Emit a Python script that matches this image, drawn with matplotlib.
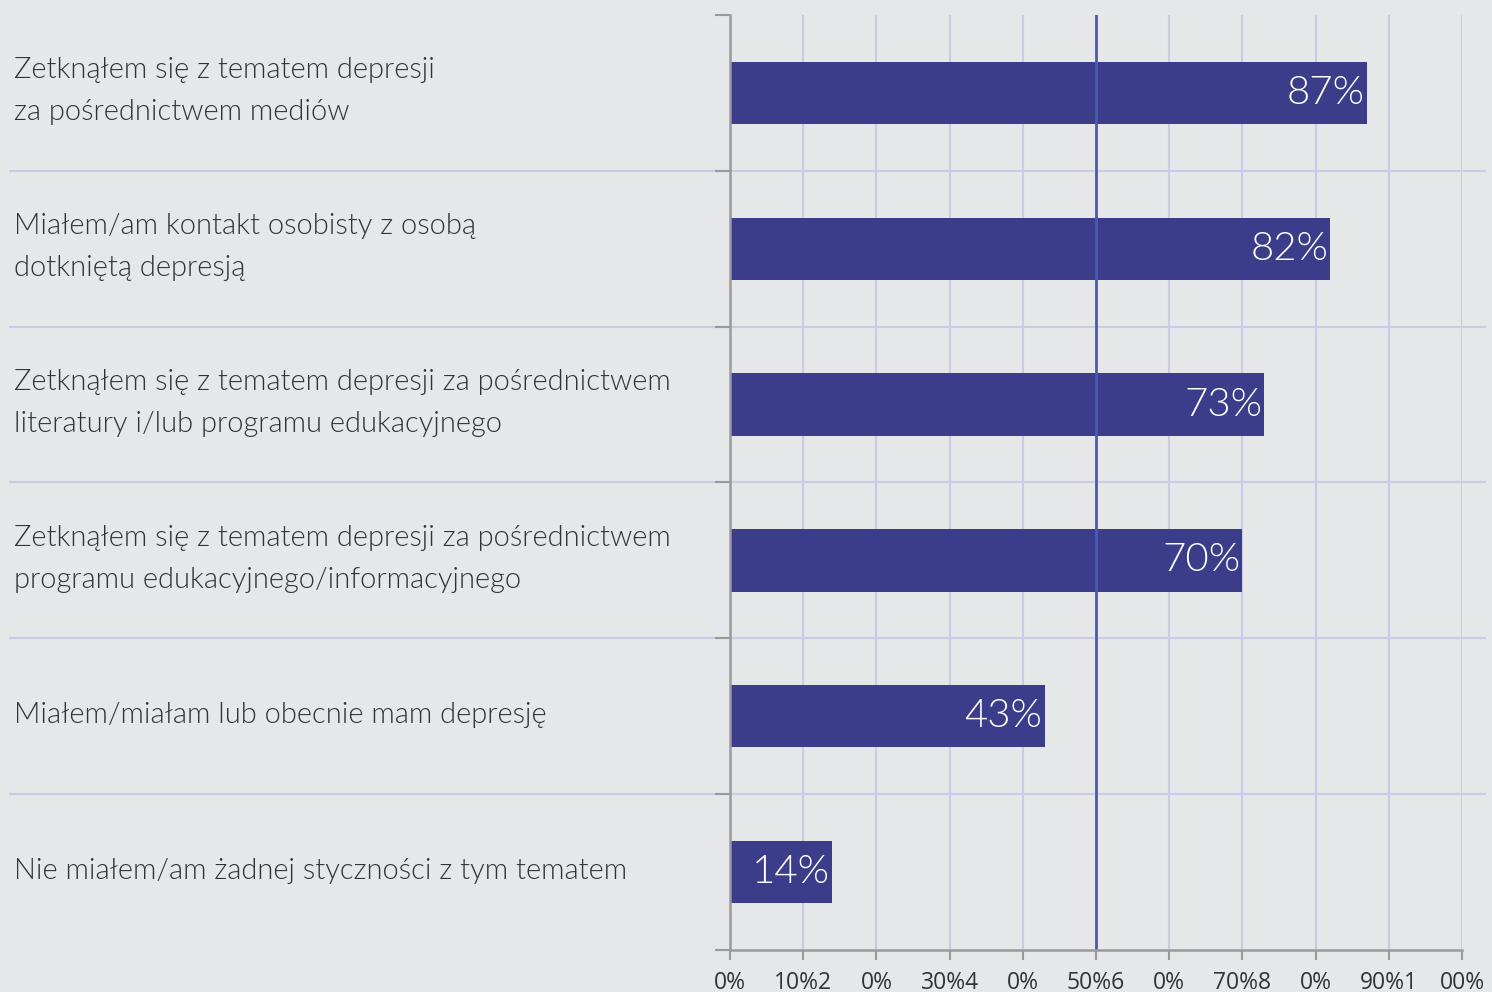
import matplotlib.pyplot as plt
import matplotlib.transforms as mtransforms
import numpy as np

# dane z wykresu
kategorie = [
    "Zetknąłem się z tematem depresji\nza pośrednictwem mediów",
    "Miałem/am kontakt osobisty z osobą\ndotkniętą depresją",
    "Zetknąłem się z tematem depresji za pośrednictwem\nliteratury i/lub programu edukacyjnego",
    "Zetknąłem się z tematem depresji za pośrednictwem\nprogramu edukacyjnego/informacyjnego",
    "Miałem/miałam lub obecnie mam depresję",
    "Nie miałem/am żadnej styczności z tym tematem",
]
wartosci = [87, 82, 73, 70, 43, 14]
etykiety_x = ["0%", "10%2", "0%", "30%4", "0%", "50%6", "0%", "70%8", "0%", "90%1", "00%"]
pozycje_x = [0, 10, 20, 30, 40, 50, 60, 70, 80, 90, 100]

tlo = "#e6e7e9"
kolor_slupka = "#3b3d8b"
kolor_siatki = "#c9cce4"
kolor_osi = "#9a9a9a"
kolor_tekstu = "#333333"

fig = plt.figure(figsize=(14.92, 9.92), dpi=100, facecolor=tlo)
ax = fig.add_axes([730 / 1492, 1 - 950 / 992, 732 / 1492, 935 / 992])
ax.set_facecolor(tlo)

n = len(kategorie)
y = np.arange(n) + 0.5

# siatka pionowa
for xv in pozycje_x[1:]:
    if xv == 50:
        continue
    ax.axvline(xv, color=kolor_siatki, lw=1.5, zorder=0)

ax.barh(y, wartosci, height=0.4, color=kolor_slupka, zorder=2)

# linia 50%
ax.axvline(50, color="#4a5ab5", lw=2, zorder=3)

# poziome separatory (wychodza poza os)
trans = mtransforms.blended_transform_factory(ax.transAxes, ax.transData)
for b in range(1, n):
    ax.plot([-0.984, 1.031], [b, b], color=kolor_siatki, lw=1.5,
            transform=trans, clip_on=False, zorder=1)

# etykiety wartosci
for yi, v in zip(y, wartosci):
    ax.text(v - 0.3, yi, "%d%%" % v, ha="right", va="center", color="white",
            fontsize=29, family="Lato", fontweight=300, zorder=4)

# etykiety kategorii
for yi, k in zip(y, kategorie):
    ax.text(-0.978, yi - 0.01, k, transform=trans, ha="left", va="center",
            color=kolor_tekstu, fontsize=21, family="Lato", fontweight=300,
            linespacing=1.75)

ax.set_xlim(0, 100)
ax.set_ylim(n, 0)
ax.set_yticks(np.arange(n + 1))
ax.set_yticklabels([])
ax.set_xticks(pozycje_x)
ax.set_xticklabels(etykiety_x, family="Open Sans", fontsize=16.5, color=kolor_tekstu)

ax.tick_params(axis="y", direction="out", length=11, width=1.5, color=kolor_osi)
ax.tick_params(axis="x", direction="out", length=7, width=1.5, color=kolor_osi, pad=8)

for s in ["top", "right"]:
    ax.spines[s].set_visible(False)
for s in ["left", "bottom"]:
    ax.spines[s].set_color(kolor_osi)
    ax.spines[s].set_linewidth(1.8)
    ax.spines[s].set_zorder(5)

fig.savefig("out.png", dpi=100, facecolor=tlo)
